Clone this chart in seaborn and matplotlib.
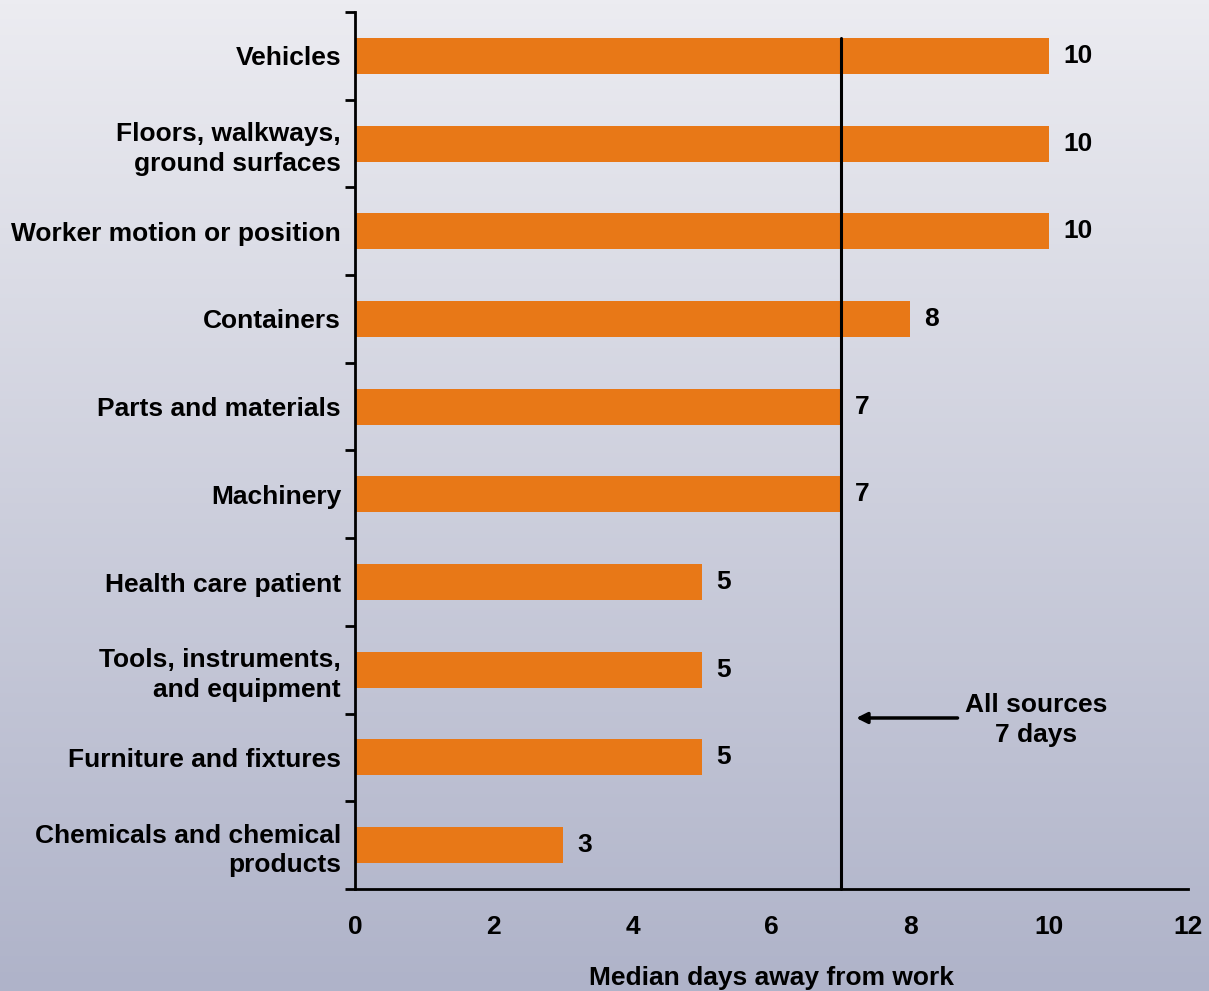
import matplotlib
matplotlib.use("Agg")
import matplotlib.pyplot as plt
import seaborn as sns
import numpy as np
import pandas as pd

categories = ["Vehicles", "Floors, walkways,\nground surfaces", "Worker motion or position",
              "Containers", "Parts and materials", "Machinery", "Health care patient",
              "Tools, instruments,\nand equipment", "Furniture and fixtures",
              "Chemicals and chemical\nproducts"]
values = [10, 10, 10, 8, 7, 7, 5, 5, 5, 3]
all_sources = 7
x_ticks = [0, 2, 4, 6, 8, 10, 12]

sns.set_theme(style="white")
plt.rcParams['font.family'] = ['Liberation Sans', 'DejaVu Sans']
plt.rcParams['font.weight'] = 'bold'
plt.rcParams['text.color'] = 'black'
plt.rcParams['xtick.color'] = 'black'
plt.rcParams['ytick.color'] = 'black'
plt.rcParams['axes.labelcolor'] = 'black'

FS = 19

fig = plt.figure(figsize=(12.09, 9.91), dpi=100)

# gradient background
bg = fig.add_axes([0, 0, 1, 1], zorder=0)
top = np.array([0xEC, 0xEC, 0xF1]) / 255
bot = np.array([0xAF, 0xB3, 0xC9]) / 255
t = np.linspace(0, 1, 256)[:, None]
grad = (top[None, :] * (1 - t) + bot[None, :] * t)[:, None, :]
bg.imshow(grad, aspect='auto', extent=[0, 1, 0, 1], origin='upper')
bg.axis('off')

ax = fig.add_axes([355/1209, 1 - 889/991, (1188-355)/1209, (889-12)/991], zorder=1)
ax.patch.set_alpha(0)

df = pd.DataFrame({"cat": categories, "val": values})
sns.barplot(data=df, x="val", y="cat", color="#E87817", saturation=1, width=0.41, ax=ax,
            order=categories, edgecolor='none', linewidth=0)

ax.set_xlim(0, 12)
ax.set_ylim(len(categories) - 0.5, -0.5)
ax.set_xticks(x_ticks)
ax.set_xticklabels([str(v) for v in x_ticks], fontsize=FS, fontweight='bold')
ax.tick_params(axis='x', direction='out', length=9, width=2, color='black', pad=10)

# y: boundary ticks (major, no labels), labels at centers (minor, no tick marks)
ax.set_yticks(np.arange(-0.5, len(categories), 1.0))
ax.set_yticklabels([])
ax.set_yticks(np.arange(len(categories)), minor=True)
ax.set_yticklabels(categories, minor=True, fontsize=FS, fontweight='bold', ha='right', linespacing=1.3)
ax.tick_params(axis='y', which='major', direction='out', length=7, width=2, color='black', left=True)
ax.tick_params(axis='y', which='minor', length=0, pad=10)

for s in ['top', 'right']:
    ax.spines[s].set_visible(False)
for s in ['left', 'bottom']:
    ax.spines[s].set_color('black')
    ax.spines[s].set_linewidth(2)

ax.set_xlabel("Median days away from work", fontsize=FS, fontweight='bold', labelpad=19)
ax.set_ylabel("")

for i, v in enumerate(values):
    ax.annotate(str(v), xy=(v, i), xytext=(10, 0), textcoords='offset points',
                ha='left', va='center', fontsize=FS, fontweight='bold', color='black')

ax.plot([all_sources, all_sources], [-0.2, len(categories) - 0.5], color='black', lw=2.2, zorder=5, clip_on=False)

ax.annotate("", xy=(7.18, 7.55), xytext=(8.72, 7.55),
            arrowprops=dict(arrowstyle='-|>', color='black', lw=2.5, mutation_scale=16))
ax.text(9.81, 7.57, "All sources\n7 days", ha='center', va='center', fontsize=FS,
        fontweight='bold', linespacing=1.3, color='black')

fig.savefig("out.png", dpi=100)
